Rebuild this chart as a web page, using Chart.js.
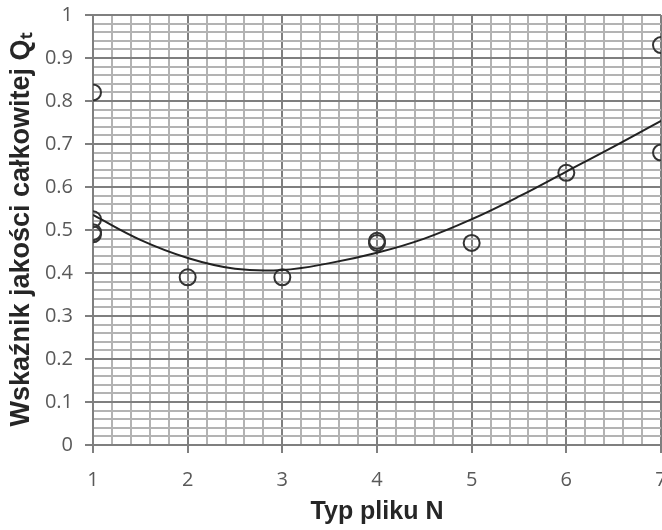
<!DOCTYPE html>
<html>
<head>
<meta charset="utf-8">
<script src="https://cdn.jsdelivr.net/npm/chart.js@4"></script>
<style>
  html, body { margin: 0; background: #fff; overflow: hidden; }
</style>
</head>
<body>
<!-- canvas is a bit wider than the window so the "7" label gets cut at the edge like the original -->
<canvas id="qualityChart" width="680" height="530"></canvas>
<script>
// Measured points (file type N vs quality index Qt)
const pointX = [1, 1, 1, 1, 2, 3, 4, 4, 5, 6, 7, 7];
const pointY = [0.82, 0.525, 0.495, 0.49, 0.39, 0.39, 0.475, 0.47, 0.47, 0.633, 0.93, 0.68];

// Trend line
const trendX = [1, 1.5, 2, 2.5, 3, 3.5, 4, 4.5, 5, 5.5, 6, 6.5, 7];
const trendY = [0.535, 0.477, 0.435, 0.41, 0.407, 0.423, 0.447, 0.48, 0.525, 0.578, 0.636, 0.694, 0.754];

// Axis ranges and label steps
const xMin = 1, xMax = 7, xMinorStep = 0.2;
const yMin = 0, yMax = 1, yMinorStep = 0.02, yMajorStep = 0.1;

const xTitle = 'Typ pliku N';
const yTitle = 'Wskaźnik jakości całkowitej Qₜ';

function isMajorX(v) { return Math.abs(v - Math.round(v)) < 1e-6; }
function isMajorY(v) { return Math.abs(v / yMajorStep - Math.round(v / yMajorStep)) < 1e-6; }

const scatterData = pointX.map((x, i) => ({ x: x, y: pointY[i] }));
const trendData = trendX.map((x, i) => ({ x: x, y: trendY[i] }));

const ctx = document.getElementById('qualityChart').getContext('2d');
const qualityChart = new Chart(ctx, {
    type: 'scatter',
    data: {
        datasets: [{
            type: 'line',
            data: trendData,
            borderColor: '#222',
            borderWidth: 2,
            pointRadius: 0,
            tension: 0.4,
            fill: false
        }, {
            data: scatterData,
            pointStyle: 'circle',
            pointRadius: 8,
            pointBorderWidth: 2,
            borderColor: '#333',
            backgroundColor: 'rgba(0,0,0,0)'
        }]
    },
    options: {
        responsive: false,
        animation: false,
        layout: { padding: { left: 0, right: 19, top: 15, bottom: 0 } },
        plugins: { legend: { display: false }, tooltip: { enabled: false } },
        scales: {
            x: {
                type: 'linear',
                min: xMin,
                max: xMax,
                // fixed size, no extra room for the edge labels
                afterFit: function(scale) {
                    scale.height = 85;
                    scale.paddingLeft = 0;
                    scale.paddingRight = 0;
                },
                ticks: {
                    stepSize: xMinorStep,
                    autoSkip: false,
                    maxRotation: 0,
                    padding: 15,
                    color: '#595959',
                    font: { family: 'Open Sans', size: 20 },
                    callback: function(value) {
                        return isMajorX(value) ? String(Math.round(value)) : '';
                    }
                },
                grid: {
                    lineWidth: 2,
                    tickLength: 8,
                    color: function(c) { return isMajorX(c.tick.value) ? '#7f7f7f' : '#b3b3b3'; },
                    tickColor: function(c) { return isMajorX(c.tick.value) ? '#7f7f7f' : 'rgba(0,0,0,0)'; }
                },
                border: { color: '#7f7f7f', width: 2 },
                title: {
                    display: true,
                    text: xTitle,
                    color: '#262626',
                    font: { family: 'Liberation Sans', size: 25, weight: 'bold' },
                    padding: { top: 0, bottom: 3 }
                }
            },
            y: {
                type: 'linear',
                min: yMin,
                max: yMax,
                afterFit: function(scale) {
                    scale.width = 93;
                    scale.paddingTop = 0;
                    scale.paddingBottom = 0;
                },
                ticks: {
                    stepSize: yMinorStep,
                    autoSkip: false,
                    padding: 12,
                    color: '#595959',
                    font: { family: 'Open Sans', size: 20 },
                    callback: function(value) {
                        return isMajorY(value) ? String(Math.round(value * 10) / 10) : '';
                    }
                },
                grid: {
                    lineWidth: 2,
                    tickLength: 8,
                    color: function(c) { return isMajorY(c.tick.value) ? '#7f7f7f' : '#b3b3b3'; },
                    tickColor: function(c) { return isMajorY(c.tick.value) ? '#7f7f7f' : 'rgba(0,0,0,0)'; }
                },
                border: { color: '#7f7f7f', width: 2 },
                title: {
                    display: true,
                    text: yTitle,
                    color: '#262626',
                    font: { family: 'Liberation Sans', size: 27, weight: 'bold' },
                    padding: { top: 5, bottom: 0 }
                }
            }
        }
    }
});
</script>
</body>
</html>
